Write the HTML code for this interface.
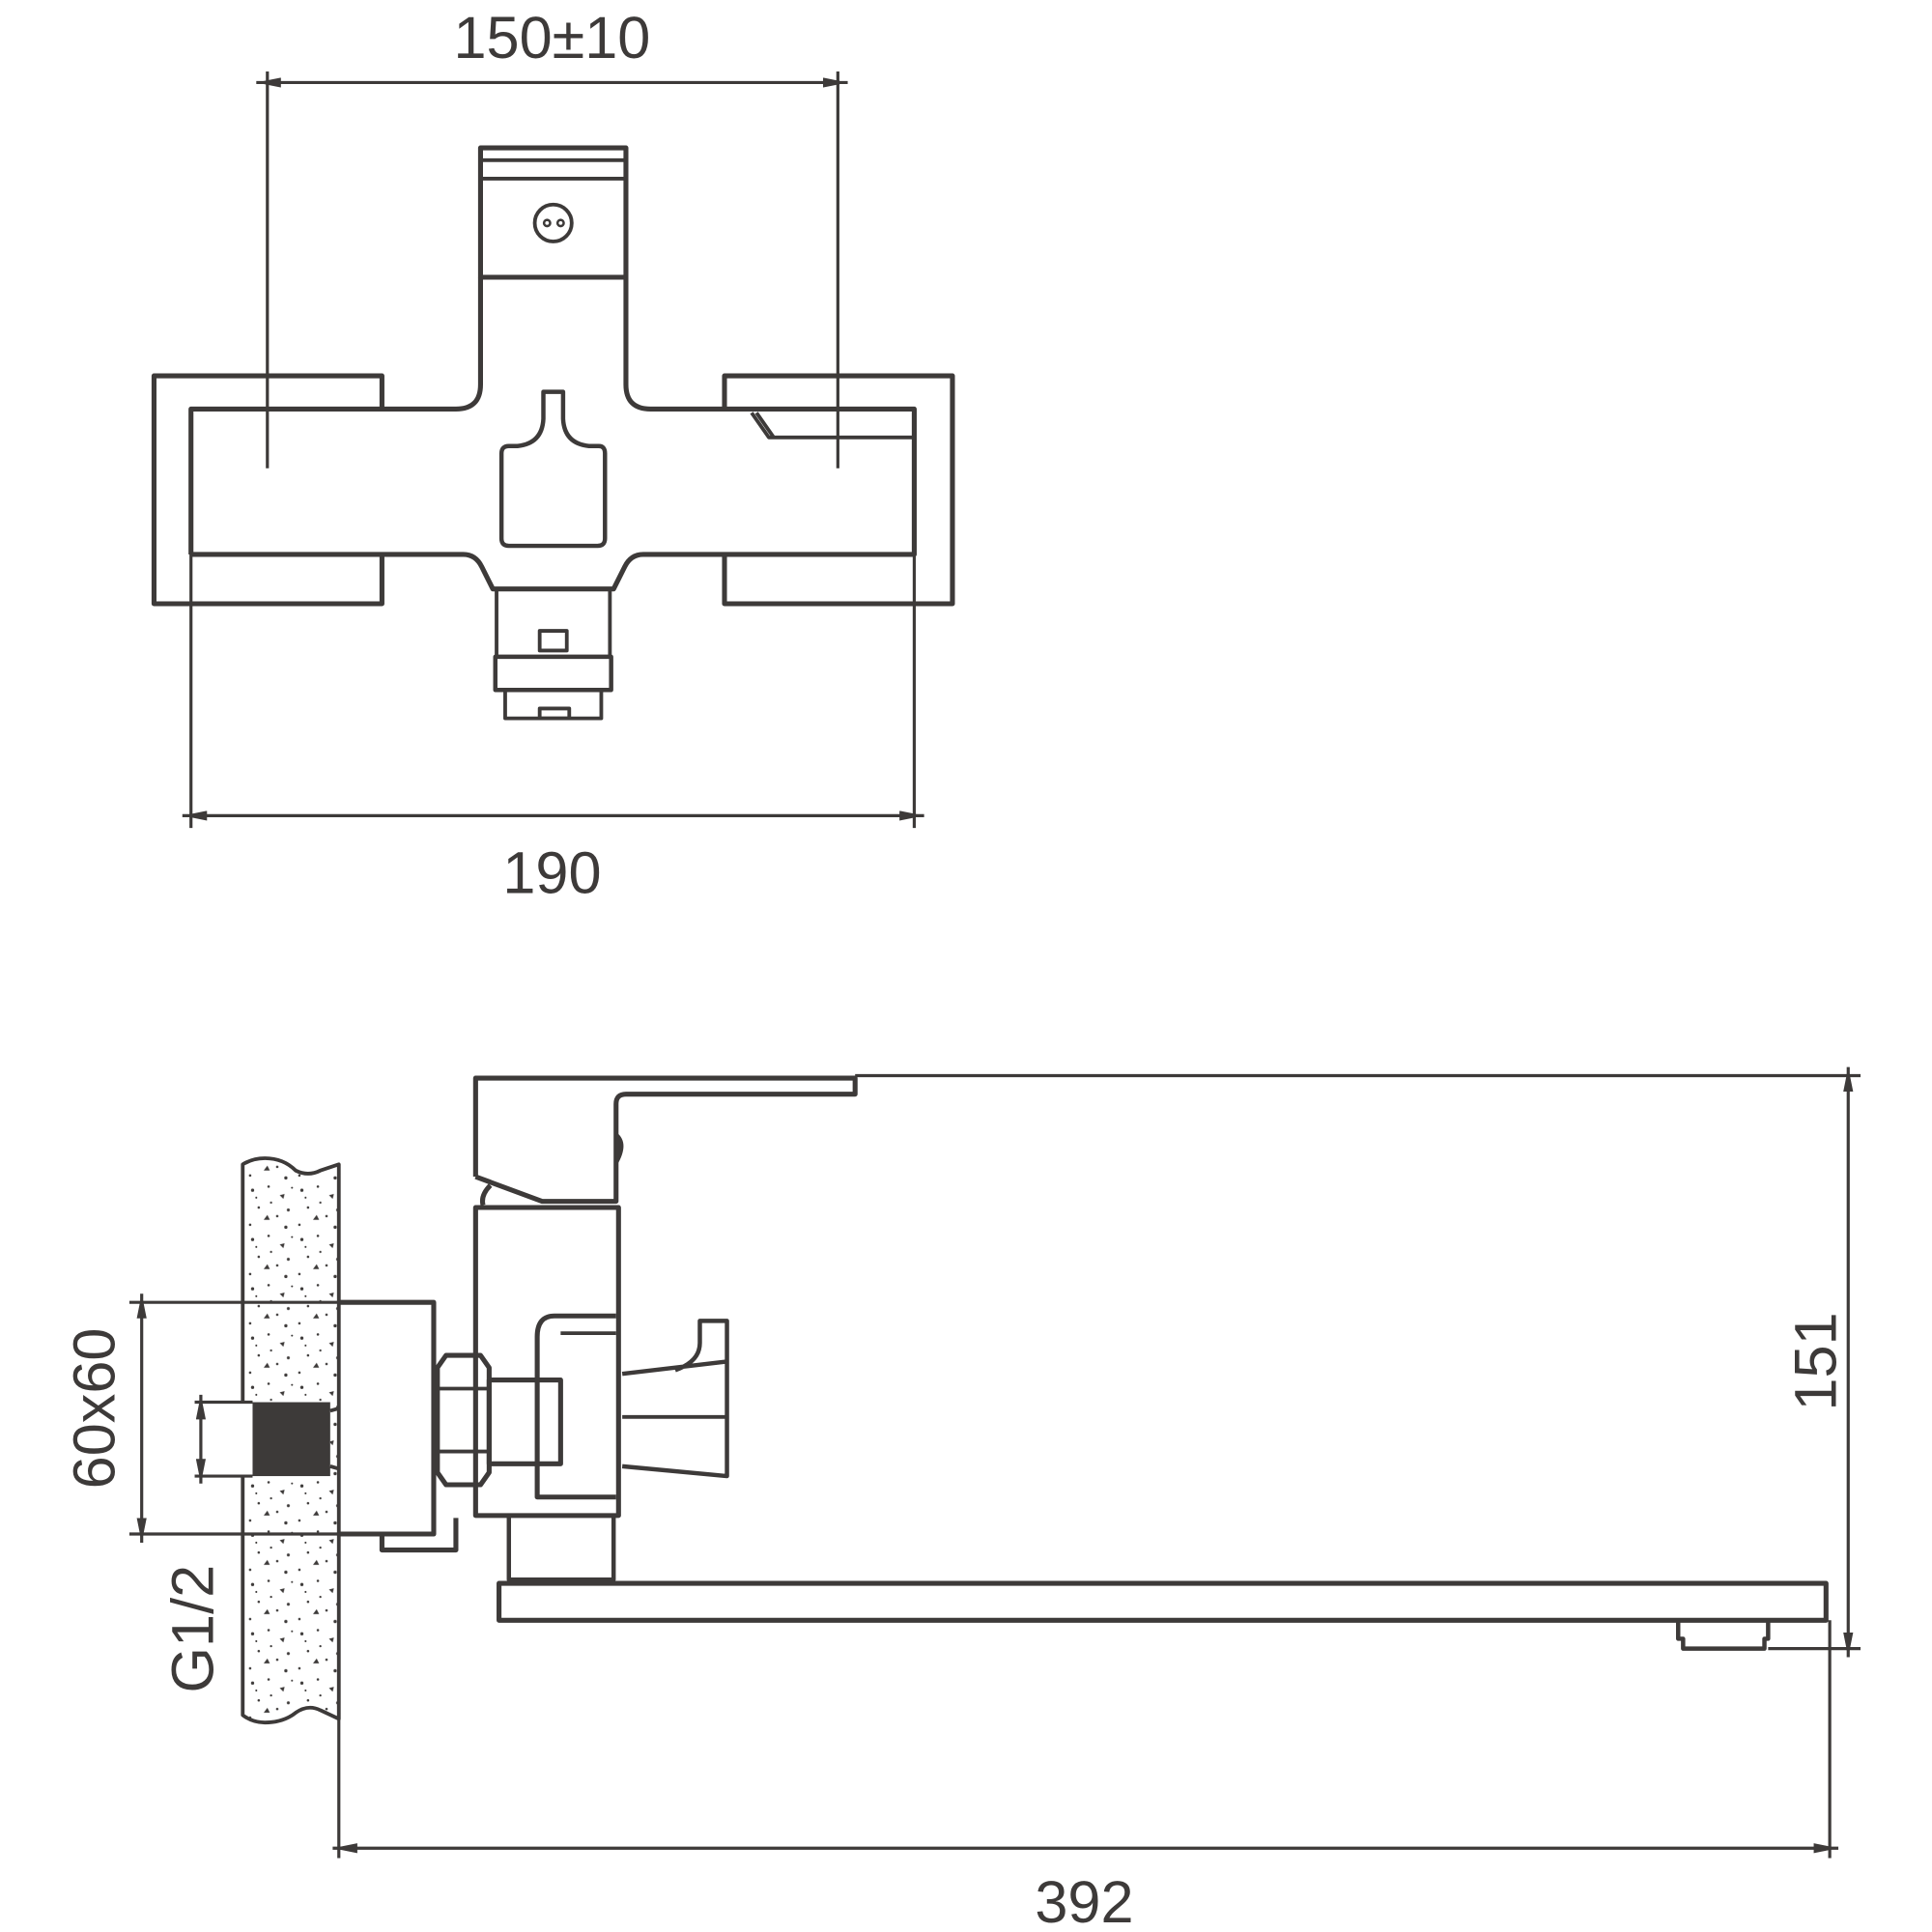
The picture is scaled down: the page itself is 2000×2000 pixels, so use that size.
<!DOCTYPE html>
<html><head><meta charset="utf-8"><style>html,body{margin:0;padding:0;background:#fff}svg{display:block}</style></head>
<body>
<svg width="2000" height="2000" viewBox="0 0 1568 1568" preserveAspectRatio="none" xmlns="http://www.w3.org/2000/svg">
<defs>
<marker id="a" viewBox="0 0 20 8" refX="20" refY="4" markerWidth="20" markerHeight="8" markerUnits="userSpaceOnUse" orient="auto-start-reverse"><path d="M0,0 L20,4 L0,8 Z" fill="#3d3a39"/></marker>
<pattern id="sp" width="40" height="40" patternUnits="userSpaceOnUse">
<rect width="40" height="40" fill="#fff"/>
<g fill="#3d3a39"><circle cx="5" cy="6" r="1.3"/><circle cx="18" cy="3" r="1"/><path d="M27,10 l4,-1 l-1,4z"/><circle cx="34" cy="22" r="1.2"/><circle cx="10" cy="20" r="1"/><path d="M14,30 l5,0 l-2,-4z"/><circle cx="25" cy="27" r="1"/><circle cx="3" cy="34" r="1"/><circle cx="32" cy="36" r="1.3"/><circle cx="20" cy="16" r="0.9"/><circle cx="8" cy="12" r="0.8"/><circle cx="37" cy="4" r="0.8"/></g>
</pattern>
</defs>
<g fill="none" stroke="#3d3a39" stroke-width="4" stroke-linejoin="round">
<path d="M310,332 V305 H125 V490 H310 V450"/>
<path d="M588,332 V305 H773 V490 H588 V450"/>
<path d="M155,450 V332 H370 Q390,332 390,312 V225 M508,225 V312 Q508,332 528,332 H742 V450 H522 Q512,450 507,460 L498,478 H400 L391,460 Q386,450 376,450 H155"/>
<rect x="390" y="120" width="118" height="105"/>
<line x1="390" y1="130" x2="508" y2="130" stroke-width="3"/>
<line x1="390" y1="145" x2="508" y2="145" stroke-width="3"/>
<circle cx="449" cy="181" r="15" stroke-width="3"/>
<circle cx="444" cy="181" r="2.5" stroke-width="2"/><circle cx="455" cy="181" r="2.5" stroke-width="2"/>
<path d="M441,318 H457 V340 Q458,360 478,362 H486 Q491,362 491,368 V437 Q491,443 485,443 H413 Q407,443 407,437 V368 Q407,362 413,362 H420 Q440,360 441,340 Z" stroke-width="3.5"/>
<path d="M610,335 L624,355 H742 M614,335 L628,355" stroke-width="3"/>
<rect x="403" y="478" width="92" height="55" stroke-width="3"/>
<rect x="438" y="512" width="22" height="16" stroke-width="3"/>
<rect x="402" y="533" width="94" height="27" stroke-width="3.5"/>
<rect x="410" y="560" width="78" height="23" stroke-width="3"/>
<rect x="438" y="575" width="24" height="8" stroke-width="3"/>
<line x1="217" y1="58" x2="217" y2="380" stroke-width="2.5"/>
<line x1="680" y1="58" x2="680" y2="380" stroke-width="2.5"/>
<line x1="208" y1="67" x2="688" y2="67" stroke-width="2.5" marker-start="url(#a)" marker-end="url(#a)"/>
<line x1="155" y1="450" x2="155" y2="672" stroke-width="2.5"/>
<line x1="742" y1="332" x2="742" y2="672" stroke-width="2.5"/>
<line x1="148" y1="662" x2="750" y2="662" stroke-width="2.5" marker-start="url(#a)" marker-end="url(#a)"/>
<path d="M197,945 Q205,940 215,940 Q230,940 240,950 Q250,955 260,950 L275,945 V1395 L260,1388 Q250,1383 240,1390 Q230,1398 215,1398 Q205,1398 197,1392 Z" fill="url(#sp)" stroke-width="3"/>
<rect x="158" y="1138" width="110" height="60" fill="#fff" stroke="none"/>
<path d="M386,955 V875 H694 V888 H508 Q500,888 500,896 V975 H440 L386,955"/>
<path d="M500,920 Q510,928 500,945" fill="#3d3a39" stroke-width="2"/>
<path d="M398,962 Q390,970 392,978"/>
<rect x="386" y="980" width="116" height="250"/>
<path d="M275,1057 H352 V1245 H275" />
<path d="M310,1245 V1258 H370 V1232"/>
<path d="M362,1100 H390 L397,1110 V1195 L390,1205 H362 L355,1195 V1110 Z"/>
<line x1="355" y1="1127" x2="397" y2="1127" stroke-width="3"/><line x1="355" y1="1178" x2="397" y2="1178" stroke-width="3"/>
<rect x="397" y="1120" width="58" height="68"/>
<path d="M500,1068 H450 Q436,1068 436,1085 V1215 H500"/>
<line x1="455" y1="1082" x2="500" y2="1082" stroke-width="3"/>
<path d="M505,1115 L590,1105 V1072 H568 V1090 Q568,1105 548,1112 M505,1190 L590,1198 V1105" stroke-width="3.5"/>
<line x1="505" y1="1150" x2="590" y2="1150" stroke-width="3"/>
<rect x="413" y="1230" width="85" height="52" stroke-width="3.5"/>
<path d="M405,1285 H1482 V1315 H405 Z"/>
<path d="M1362,1315 V1330 H1366 V1338 H1432 V1330 H1435 V1315" stroke-width="3.5"/>
<rect x="205" y="1138" width="63" height="60" fill="#3d3a39" stroke="none"/>
<line x1="158" y1="1138" x2="205" y2="1138" stroke-width="2.5"/>
<line x1="158" y1="1198" x2="205" y2="1198" stroke-width="2.5"/>
<line x1="268" y1="1145" x2="275" y2="1143" stroke-width="3"/><line x1="268" y1="1190" x2="275" y2="1192" stroke-width="3"/>
<line x1="163" y1="1132" x2="163" y2="1204" stroke-width="2.5" marker-start="url(#a)" marker-end="url(#a)"/>
<line x1="105" y1="1057" x2="352" y2="1057" stroke-width="2.5"/>
<line x1="105" y1="1245" x2="352" y2="1245" stroke-width="2.5"/>
<line x1="115" y1="1050" x2="115" y2="1252" stroke-width="2.5" marker-start="url(#a)" marker-end="url(#a)"/>
<line x1="694" y1="873" x2="1510" y2="873" stroke-width="2.5"/>
<line x1="1435" y1="1338" x2="1510" y2="1338" stroke-width="2.5"/>
<line x1="1500" y1="866" x2="1500" y2="1345" stroke-width="2.5" marker-start="url(#a)" marker-end="url(#a)"/>
<line x1="275" y1="1395" x2="275" y2="1508" stroke-width="2.5"/>
<line x1="1485" y1="1315" x2="1485" y2="1508" stroke-width="2.5"/>
<line x1="270" y1="1500" x2="1492" y2="1500" stroke-width="2.5" marker-start="url(#a)" marker-end="url(#a)"/>
</g>
<g font-family="Liberation Sans, sans-serif" font-size="48" fill="#3d3a39" text-anchor="middle">
<text x="448" y="47">150±10</text>
<text x="448" y="725">190</text>
<text x="880" y="1560">392</text>
<text transform="translate(1490,1105) rotate(-90)">151</text>
<text transform="translate(93,1143) rotate(-90)">60x60</text>
<text transform="translate(173,1322) rotate(-90)">G1/2</text>
</g>
</svg>
</body></html>
